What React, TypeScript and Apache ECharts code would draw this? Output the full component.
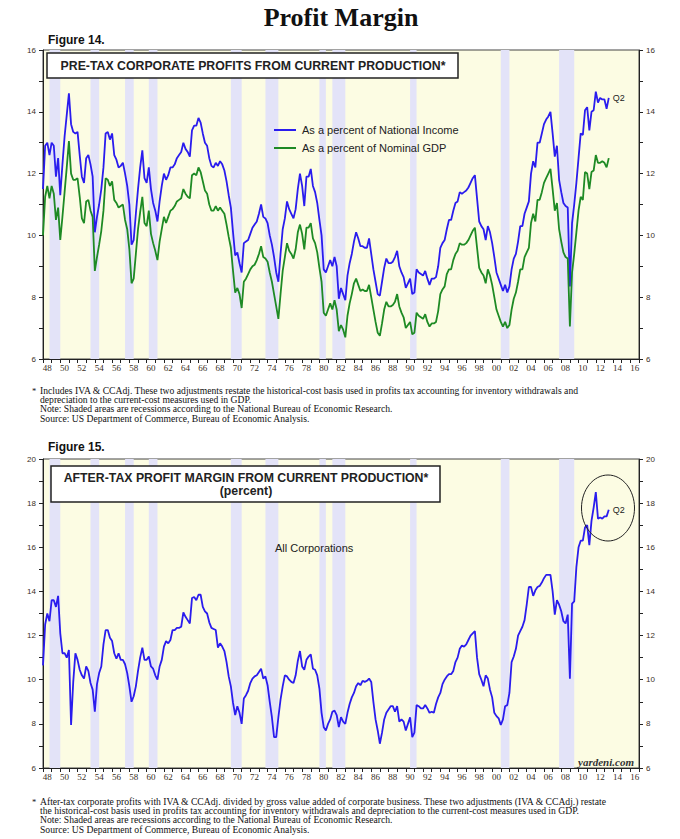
import React, { useEffect, useRef } from "react";
import * as echarts from "echarts";

// Quarterly observations, first one plotted at 1948.0, one every quarter (year fraction 0.25)
const START_YEAR = 1948;
const STEP = 0.25;

// Pre-tax corporate profits from current production, % of national income
const pretaxPctNationalIncome = [
  11.5, 12.9, 13.0, 12.6, 13.0, 12.9, 11.9, 12.5, 11.3, 12.3, 13.2, 13.9,
  14.6, 13.6, 13.35, 13.3, 13.35, 12.6, 11.9, 11.7, 12.5, 12.6, 12.3, 11.9,
  10.1, 10.6, 11.0, 11.5, 12.2, 13.3, 13.35, 13.1, 13.3, 12.6, 12.45, 12.2,
  12.25, 12.35, 12.0, 11.6, 11.0, 9.7, 9.85, 10.7, 11.5, 12.2, 12.75, 11.85,
  11.7, 12.2, 11.5, 11.05, 10.8, 10.45, 11.1, 11.6, 12.0, 11.8, 11.95, 12.2,
  12.2, 12.3, 12.5, 12.6, 12.7, 13.0, 12.8, 12.7, 12.55, 13.4, 13.55, 13.55,
  13.8, 13.65, 13.3, 13.0, 12.9, 12.5, 12.25, 12.2, 12.35, 12.25, 12.4, 12.3,
  12.1, 11.75, 11.3, 10.9, 10.1, 9.35, 9.45, 9.1, 8.8, 9.75, 9.8, 9.85,
  10.05, 10.25, 10.35, 10.45, 10.7, 11.0, 10.6, 10.55, 10.4, 10.0, 9.7, 9.3,
  8.8, 8.5, 9.4, 10.2, 10.55, 11.1, 10.85, 10.7, 10.55, 10.85, 11.5, 12.0,
  11.6, 10.95, 11.9, 11.9, 12.15, 11.6, 11.4, 11.05, 10.5, 10.0, 8.9, 8.8,
  9.0, 9.2, 9.0, 9.3, 9.0, 7.95, 8.3, 8.1, 7.9, 8.7, 9.1, 9.4,
  9.8, 10.1, 9.9, 9.65, 9.65, 9.6, 9.6, 9.9, 9.4, 8.9, 8.5, 8.1,
  8.05, 8.5, 8.95, 9.25, 9.1, 9.1, 9.15, 9.3, 9.5, 9.0, 8.8, 8.65,
  8.3, 8.45, 8.6, 8.1, 8.15, 8.9, 8.8, 8.75, 8.7, 8.85, 8.6, 8.4,
  8.6, 8.6, 8.65, 9.0, 9.6, 9.75, 9.85, 10.2, 10.5, 10.5, 10.8, 11.05,
  11.1, 11.4, 11.35, 11.4, 11.45, 11.55, 11.7, 11.85, 11.95, 11.2, 10.45, 10.3,
  10.2, 9.85, 10.3, 10.1, 9.75, 9.3, 8.8, 8.6, 8.4, 8.2, 8.4, 8.15,
  8.35, 8.9, 9.25, 9.4, 9.8, 10.3, 10.3, 10.7, 10.9, 11.1, 12.0, 12.4,
  12.2, 13.0, 13.0, 13.3, 13.6, 13.75, 13.85, 14.0, 13.3, 12.55, 12.9, 11.8,
  11.4, 11.05, 10.95, 10.9, 8.35, 10.4, 11.0, 11.7, 12.5, 13.3, 13.25, 14.05,
  14.15, 13.4, 14.0, 14.05, 14.65, 14.3, 14.45, 14.4, 14.4, 14.1, 14.45,
];

// Pre-tax corporate profits from current production, % of nominal GDP
const pretaxPctNominalGdp = [
  10.0, 11.25, 11.6, 11.2, 11.6, 11.35, 10.5, 10.9, 9.85, 10.6, 11.4, 12.2,
  13.05, 12.0, 11.8, 11.8, 11.85, 11.25, 10.55, 10.4, 11.1, 11.15, 10.8, 10.6,
  8.85, 9.3, 9.7, 10.15, 10.8, 11.85, 11.8, 11.6, 11.75, 11.15, 11.05, 10.9,
  10.95, 11.0, 10.5, 10.2, 9.55, 8.45, 8.6, 9.4, 10.2, 10.75, 11.25, 10.4,
  10.3, 10.8, 10.05, 9.75, 9.5, 9.2, 9.8, 10.2, 10.6, 10.4, 10.6, 10.8,
  10.85, 10.95, 11.1, 11.15, 11.2, 11.5, 11.35, 11.25, 11.2, 11.95, 12.0, 11.95,
  12.2, 12.05, 11.75, 11.45, 11.35, 11.0, 10.8, 10.8, 10.95, 10.8, 10.9, 10.8,
  10.7, 10.35, 9.95, 9.6, 8.85, 8.15, 8.3, 8.1, 7.65, 8.5, 8.6, 8.75,
  8.9, 9.0, 9.05, 9.2, 9.4, 9.65, 9.3, 9.25, 9.15, 8.8, 8.5, 8.1,
  7.7, 7.3, 8.1, 8.85, 9.3, 9.75, 9.5, 9.4, 9.25, 9.55, 10.1, 10.35,
  10.05, 9.55, 10.25, 10.25, 10.4, 9.9, 9.75, 9.45, 8.95, 8.5, 7.5, 7.4,
  7.6, 7.8, 7.6, 7.9, 7.6, 6.9, 7.1, 6.95, 6.7, 7.4, 7.8, 8.1,
  8.45, 8.6, 8.4, 8.2, 8.25, 8.2, 8.2, 8.4, 8.0, 7.6, 7.2, 6.85,
  6.75, 7.15, 7.6, 7.85, 7.7, 7.7, 7.75, 7.85, 8.1, 7.7, 7.5, 7.35,
  7.0, 7.1, 7.2, 6.8, 6.85, 7.5, 7.4, 7.35, 7.3, 7.45, 7.2, 7.05,
  7.15, 7.15, 7.2, 7.55, 8.1, 8.25, 8.35, 8.75, 8.9, 8.9, 9.2, 9.4,
  9.5, 9.75, 9.7, 9.7, 9.75, 9.85, 10.0, 10.15, 10.25, 9.6, 8.95, 8.8,
  8.7, 8.45, 8.9, 8.7, 8.4, 8.0, 7.6, 7.4, 7.2, 7.05, 7.2, 7.0,
  7.1, 7.6, 7.95, 8.15, 8.5, 8.9, 8.9, 9.3, 9.45, 9.6, 10.4, 10.7,
  10.45, 11.15, 11.15, 11.4, 11.7, 11.85, 12.0, 12.15, 11.5, 10.8, 11.05, 10.2,
  9.8, 9.45, 9.3, 9.25, 7.05, 8.8, 9.4, 10.1, 10.8, 11.25, 11.15, 12.05,
  12.0, 11.5, 12.05, 12.1, 12.6, 12.35, 12.35, 12.4, 12.35, 12.2, 12.5,
];

// After-tax profit margin from current production, all corporations (percent)
const afterTaxMargin = [
  10.65, 12.5, 13.0, 12.65, 13.6, 13.6, 13.3, 13.8, 12.1, 11.2, 11.2, 11.0,
  11.35, 7.95, 9.9, 11.2, 10.9, 10.45, 10.2, 10.05, 10.6, 10.4, 9.85, 9.55,
  8.55, 9.8, 10.3, 10.6, 11.6, 12.25, 12.25, 11.9, 11.75, 11.2, 10.95, 11.2,
  10.9, 10.9, 10.7, 10.3, 9.7, 9.0, 9.25, 9.7, 10.4, 11.0, 11.45, 10.9,
  10.9, 11.05, 10.6, 10.5, 10.2, 10.0, 10.6, 10.9, 11.5, 11.75, 11.65, 11.8,
  12.25, 12.25, 12.35, 12.35, 12.4, 13.05, 12.85, 12.7, 12.55, 13.7, 13.75, 13.6,
  13.85, 13.85, 13.3, 13.1, 13.0, 12.6, 12.35, 12.3, 12.25, 11.45, 11.65, 11.5,
  11.3, 10.8, 10.15, 9.7, 8.95, 8.4, 8.8, 8.5, 8.0, 9.15, 9.3, 9.5,
  9.85, 10.05, 10.15, 10.2, 10.35, 10.5, 10.05, 10.15, 9.75, 9.0, 8.3, 7.4,
  7.4, 8.3, 9.1, 9.7, 10.2, 10.15, 10.0, 9.9, 9.85, 10.2, 10.85, 11.3,
  10.6, 10.45, 10.9, 11.05, 11.15, 10.5, 10.45, 10.2, 9.6, 8.5, 7.85, 7.7,
  8.0, 8.2, 8.55, 8.6, 8.4, 7.85, 8.3, 8.1, 8.0, 8.5, 8.9, 9.2,
  9.4, 9.7, 9.85, 9.75, 9.95, 9.9, 9.95, 10.05, 9.9, 9.0, 8.2, 7.7,
  7.1, 7.6, 8.2, 8.5, 8.65, 8.8, 8.8, 8.55, 8.8, 8.1, 8.2, 8.1,
  7.7, 8.0, 8.3, 7.4, 7.6, 8.85, 8.8, 8.7, 8.7, 8.85, 8.7, 8.5,
  8.55, 8.5, 8.9, 9.2, 9.4, 9.8, 10.0, 10.15, 10.25, 10.25, 10.4, 10.8,
  11.0, 11.4, 11.55, 11.5, 11.6, 11.8, 12.0, 12.1, 12.2, 11.0, 10.25, 10.0,
  9.7, 10.2, 10.05, 9.55, 9.2, 8.5, 8.35, 8.25, 7.95, 8.2, 8.8, 8.85,
  9.4, 10.8, 11.05, 11.4, 12.0, 12.2, 12.4, 12.7, 13.4, 14.2, 14.2, 13.8,
  14.05, 14.2, 14.25, 14.4, 14.6, 14.75, 14.75, 14.75, 14.0, 12.95, 13.6, 13.4,
  13.1, 12.65, 12.55, 12.95, 10.05, 13.45, 13.55, 15.1, 16.0, 16.3, 16.3, 16.9,
  17.0, 16.1, 17.2, 17.8, 18.5, 17.3, 17.35, 17.3, 17.4, 17.4, 17.7,
];

// NBER recessions (start of peak quarter, end of trough quarter)
const recessions: [number, number][] = [
  [1948.75, 1950.0], [1953.5, 1954.5], [1957.5, 1958.5], [1960.25, 1961.25],
  [1969.75, 1971.0], [1973.75, 1975.25], [1980.0, 1980.75], [1981.5, 1983.0],
  [1990.5, 1991.25], [2001.0, 2002.0], [2007.75, 2009.5],
];

// x tick labels (two-digit years, centred on their year)
const xTickLabels = [
  "48", "50", "52", "54", "56", "58", "60", "62", "64", "66", "68", "70",
  "72", "74", "76", "78", "80", "82", "84", "86", "88", "90", "92", "94",
  "96", "98", "00", "02", "04", "06", "08", "10", "12", "14", "16",
];
const firstLabelYear = 1948;
const xMin = 1948;
const xMax = 2017;

const fig14Y = { min: 6, max: 16 };
const fig15Y = { min: 6, max: 20 };

const BLUE = "#2A1CEE";
const GREEN = "#1E8A24";
const PLOT_BG = "#FCFCE3";
const BAND = "#E3E3F8";
const LABEL_COLOR = "#3b2f25";

const toXY = (vals: number[]) => vals.map((v, i) => [START_YEAR + i * STEP, v]);

const labelPositions = xTickLabels.map((_, i) => firstLabelYear + 0.5 + i * 2);
const labelMap: Record<string, string> = {};
labelPositions.forEach((p, i) => (labelMap[String(p)] = xTickLabels[i]));
const tickYears: number[] = [];
for (let y = xMin; y <= xMax; y++) tickYears.push(y);

function makeXAxis(gridIndex: number) {
  return {
    type: "value",
    gridIndex,
    min: xMin,
    max: xMax,
    interval: 1,
    axisLine: { show: true, onZero: false, lineStyle: { color: "#222", width: 1 } },
    axisTick: { show: true, length: 4, customValues: tickYears, lineStyle: { color: "#222" } },
    axisLabel: {
      customValues: labelPositions,
      formatter: (v: number) => labelMap[String(v)] ?? "",
      fontSize: 9,
      fontFamily: "Liberation Serif",
      color: LABEL_COLOR,
      margin: 4,
    },
    splitLine: { show: false },
  };
}

function makeYAxis(gridIndex: number, position: string, r: { min: number; max: number }) {
  return {
    type: "value",
    gridIndex,
    position,
    min: r.min,
    max: r.max,
    interval: 1,
    axisLine: { show: true, lineStyle: { color: "#222", width: 1 } },
    axisTick: { show: true, length: 4, lineStyle: { color: "#222" } },
    axisLabel: {
      formatter: (v: number) => (v % 2 === 0 ? String(v) : ""),
      fontSize: 8,
      fontFamily: "Liberation Sans",
      color: LABEL_COLOR,
      margin: 7,
    },
    splitLine: { show: false },
  };
}

function bandSeries(xAxisIndex: number, yAxisIndex: number, vals: number[]) {
  return {
    type: "line",
    xAxisIndex,
    yAxisIndex,
    data: toXY(vals),
    symbol: "none",
    silent: true,
    lineStyle: { opacity: 0 },
    z: 1,
    markArea: {
      silent: true,
      itemStyle: { color: BAND },
      data: recessions.map((r) => [{ xAxis: r[0] }, { xAxis: r[1] }]),
    },
  };
}

const serif = "Liberation Serif";
const sans = "Liberation Sans";

function txt(x: number, y: number, text: string, o: any = {}) {
  return {
    type: "text",
    x,
    y,
    z: 100,
    silent: true,
    style: {
      text,
      fill: o.fill ?? "#111",
      fontSize: o.fontSize ?? 9,
      fontFamily: o.fontFamily ?? serif,
      fontWeight: o.fontWeight ?? "normal",
      fontStyle: o.fontStyle ?? "normal",
      align: o.align ?? "left",
      verticalAlign: "middle",
    },
  };
}

const foot14 = [
  "Includes IVA & CCAdj. These two adjustments restate the historical-cost basis used in profits tax accounting for inventory withdrawals and",
  "depreciation to the current-cost measures used in GDP.",
  "Note: Shaded areas are recessions according to the National Bureau of Economic Research.",
  "Source: US Department of Commerce, Bureau of Economic Analysis.",
];
const foot15 = [
  "After-tax corporate profits with IVA & CCAdj. divided by gross value added of corporate business. These two adjustments (IVA & CCAdj.) restate",
  "the historical-cost basis used in profits tax accounting for inventory withdrawals and depreciation to the current-cost measures used in GDP.",
  "Note: Shaded areas are recessions according to the National Bureau of Economic Research.",
  "Source: US Department of Commerce, Bureau of Economic Analysis.",
];

export default function App() {
  const ref = useRef<HTMLDivElement>(null);
  useEffect(() => {
    if (!ref.current) return;
    const chart = echarts.init(ref.current, undefined, { renderer: "svg" });
    const graphic: any[] = [
      txt(341, 17, "Profit Margin", { fontSize: 26, fontWeight: "bold", align: "center" }),
      txt(48, 40, "Figure 14.", { fontFamily: sans, fontSize: 12, fontWeight: "bold" }),
      {
        type: "rect", z: 100, silent: true,
        shape: { x: 47, y: 53, width: 411, height: 25 },
        style: { fill: "#fff", stroke: "#222", lineWidth: 1.5 },
      },
      txt(253, 66, "PRE-TAX CORPORATE PROFITS FROM CURRENT PRODUCTION*", {
        fontFamily: sans, fontSize: 12.3, fontWeight: "bold", align: "center", fill: "#222",
      }),
      { type: "line", z: 100, silent: true, shape: { x1: 274, y1: 130, x2: 296, y2: 130 }, style: { stroke: BLUE, lineWidth: 2 } },
      txt(302, 130, "As a percent of National Income", { fontFamily: sans, fontSize: 11, fill: "#222" }),
      { type: "line", z: 100, silent: true, shape: { x1: 274, y1: 148, x2: 296, y2: 148 }, style: { stroke: GREEN, lineWidth: 2 } },
      txt(302, 148, "As a percent of Nominal GDP", { fontFamily: sans, fontSize: 11, fill: "#222" }),
      txt(32, 391, "*", { fontSize: 8.5 }),
      ...foot14.map((t, i) => txt(40, 390 + i * 9.4, t, { fontSize: 9.65 })),

      txt(48, 447, "Figure 15.", { fontFamily: sans, fontSize: 12, fontWeight: "bold" }),
      {
        type: "rect", z: 100, silent: true,
        shape: { x: 51, y: 466, width: 389, height: 36 },
        style: { fill: "#fff", stroke: "#222", lineWidth: 1.5 },
      },
      txt(246, 478, "AFTER-TAX PROFIT MARGIN FROM CURRENT PRODUCTION*", {
        fontFamily: sans, fontSize: 12.3, fontWeight: "bold", align: "center", fill: "#222",
      }),
      txt(246, 491, "(percent)", { fontFamily: sans, fontSize: 12.3, fontWeight: "bold", align: "center", fill: "#222" }),
      txt(275, 548, "All Corporations", { fontFamily: sans, fontSize: 11, fill: "#222" }),
      {
        type: "ellipse", z: 100, silent: true,
        shape: { cx: 608, cy: 508, rx: 26.5, ry: 33 },
        style: { fill: "none", stroke: "#222", lineWidth: 1 },
      },
      txt(634, 762, "yardeni.com", { fontSize: 11, fontWeight: "bold", fontStyle: "italic", align: "right", fill: "#333" }),
      txt(32, 802, "*", { fontSize: 8.5 }),
      ...foot15.map((t, i) => txt(40, 801 + i * 9.4, t, { fontSize: 9.65 })),
    ];

    chart.setOption({
      animation: false,
      backgroundColor: "#fff",
      grid: [
        { left: 43, top: 50, width: 596, height: 309, show: true, backgroundColor: PLOT_BG, borderColor: "#444", borderWidth: 1 },
        { left: 43, top: 459, width: 596, height: 309, show: true, backgroundColor: PLOT_BG, borderColor: "#444", borderWidth: 1 },
      ],
      xAxis: [makeXAxis(0), makeXAxis(1)],
      yAxis: [
        makeYAxis(0, "left", fig14Y),
        makeYAxis(0, "right", fig14Y),
        makeYAxis(1, "left", fig15Y),
        makeYAxis(1, "right", fig15Y),
      ],
      series: [
        bandSeries(0, 0, pretaxPctNationalIncome),
        {
          name: "As a percent of National Income",
          type: "line", xAxisIndex: 0, yAxisIndex: 0, z: 3,
          data: toXY(pretaxPctNationalIncome), symbol: "none",
          lineStyle: { color: BLUE, width: 1.8 }, itemStyle: { color: BLUE },
          endLabel: { show: true, formatter: "Q2", fontSize: 9, fontFamily: sans, color: "#222", distance: 4 },
        },
        {
          name: "As a percent of Nominal GDP",
          type: "line", xAxisIndex: 0, yAxisIndex: 0, z: 3,
          data: toXY(pretaxPctNominalGdp), symbol: "none",
          lineStyle: { color: GREEN, width: 1.8 }, itemStyle: { color: GREEN },
        },
        bandSeries(1, 2, afterTaxMargin),
        {
          name: "All Corporations",
          type: "line", xAxisIndex: 1, yAxisIndex: 2, z: 3,
          data: toXY(afterTaxMargin), symbol: "none",
          lineStyle: { color: BLUE, width: 1.8 }, itemStyle: { color: BLUE },
          endLabel: { show: true, formatter: "Q2", fontSize: 9, fontFamily: sans, color: "#222", distance: 4 },
        },
      ],
      graphic,
    });
    return () => chart.dispose();
  }, []);
  return (
    <div
      ref={ref}
      style={{ position: "absolute", left: 0, top: 0, width: 680, height: 839, background: "#fff" }}
    />
  );
}
